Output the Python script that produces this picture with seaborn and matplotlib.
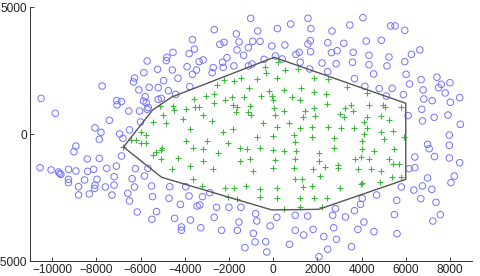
import numpy as np
import pandas as pd
import seaborn as sns
import matplotlib
matplotlib.use("Agg")
import matplotlib.pyplot as plt

# points outside the hull (blue circles)
out_x = [-10500, -9860, -7740, -5700, -5850, -5230, -6270, -6320, -6075, -5610,
         -5200, -7075, -6865, -7060, -5790, -5865, -5745, -5200, -6530, -6045,
         -5650, -5700, -7410, -6000, -8060, -7790, -6500, -6940, -7865, -6800,
         -1015, 1575, -2665, 790, 195, 1710, -3650, -1665, -695, -1545,
         -2410, -2225, -925, -590, -3560, -3800, -4530, -4805, -4835, -1635,
         -1120, -60, 530, 1575, 1680, 1695, 1180, 1030, -3350, -3165,
         -2290, -2090, -1335, 105, 410, 1225, -410, -955, -1120, -1775,
         -2260, -2710, -3895, -3470, -2760, -3650, -4560, -4305, -4955, -3770,
         -4740, -4410, -5060, 1650,
         4060, 3470, 5315, 5515, 5955, 2665, 2470, 3195, 4210, 4895,
         2635, 2895, 3620, 4335, 5240, 6255, 6635, 2210, 2850, 3590,
         4335, 5150, 5955, 2470, 4545, 6015, 3680, 4150, 4800, 5380,
         6165, 5895, 5120, 6695, 7410, 7605, 7485, 8000, 6785, 7785,
         8440, 6815, 7195, 8015, 6725, 6105, 6755, 7285, 7910, 8470, 7970,
         -10545, -10045, -9710, -9650, -9605, -9260, -8925, -9260, -9260, -8805,
         -8530, -8395, -8120, -7865, -9015, -8925, -8410, -8805, -8320, -8060,
         -7970, -8075, -7590, -7530, -7290, -7195, -7195, -7090, -6865, -6575,
         -6500, -6380, -6275, -6230, -6150, -5820, -5665, -5500, -5455, -5485, -5275,
         -4680, -3955, -4710, -3805, -3195, -2865, -4195, -3440, -3320, -2560,
         -2000, -1455, -790, 165, 1000, 1560, -4455, -3740, -4150, -4150,
         -3275, -2665, -1545, -740, -135, -2335, -1620, -895, 1000, 1805,
         1380, -820, -335, 740, -1275, -290, 2075,
         6985, 7060, 7970, 7970, 8440, 7300, 6410, 6410, 6150, 6985,
         6755, 7180, 6365, 5800, 6680, 7365, 7560, 7225, 5590, 5485,
         5605, 4680, 4030, 3955, 3680, 2820, 2695, 3270, 4105, 3835,
         4560, 2740, 2865, 2290, 2470, 3545, 8195, 8045]
out_y = [1400, 815, 1890, 2875, 2415, 2550, 2205, 2050, 1735, 1840,
         1825, 1315, 1275, 1145, 1470, 1300, 1235, 1365, 905, 905,
         1040, 975, 540, 475, 240, 65, 160, 0, -210, -170,
         4555, 4555, 4110, 4330, 4150, 4150, 3715, 3940, 4055, 3625,
         3530, 3610, 3650, 3650, 3345, 3165, 3215, 3020, 2890, 3310,
         3400, 3465, 3505, 3545, 3675, 3240, 3215, 3135, 2850, 2915,
         2825, 3005, 3100, 3070, 2955, 2825, 2940, 2755, 2680, 2680,
         2625, 2615, 2650, 2520, 2415, 2350, 2520, 2195, 2100, 1865,
         1705, 1560, 1405, 2560,
         4580, 4290, 4255, 4255, 4080, 4055, 3595, 3570, 3660, 3690,
         3205, 3280, 3215, 3100, 3030, 3135, 3310, 2795, 2770, 2825,
         2730, 2680, 2850, 2455, 2365, 2350, 2180, 1880, 1785, 1800,
         1970, 1550, 1495, 2140, 2235, 1955, 1825, 2020, 1735, 1615,
         1430, 1380, 1315, 1250, 975, 725, 515, 660, 750, 380, -40,
         -1325, -1415, -1495, -1550, -1590, -1390, -1455, -1785, -1915, -2075,
         -1810, -1470, -1390, -960, -695, -475, -985, -2400, -2360, -2010,
         -1785, -2140, -2085, -1350, -2400, -1680, -2010, -1260, -865, -2335,
         -2635, -1760, -2085, -1365, -3070, -1655, -1350, -2045, -2465, -3360, -3055,
         -2075, -2075, -2530, -2440, -2465, -2310, -2770, -2835, -2795, -2885,
         -2885, -2885, -3135, -3280, -3200, -3230, -3320, -3385, -3660, -3790,
         -3690, -3280, -3465, -3425, -3620, -3790, -3790, -3910, -3790, -3755,
         -3975, -4250, -4240, -4345, -4475, -4645, -4830,
         -405, -580, -445, -945, -1130, -890, -905, -1325, -1365, -1730,
         -2045, -2180, -2205, -2085, -2545, -2690, -3175, -3425, -2610, -3175,
         -3925, -2400, -2530, -2770, -3020, -2940, -3200, -3265, -3465, -3755,
         -3845, -3690, -4145, -4040, -4540, -4435, -1655, -1915]

# points inside the hull (green plus)
in_x = [-6770, -6420, -6195, -5970, -5740, -5970, -5740, -5440, -5135, -5440, -5285,
        -365, -320, 225, 545, 1105, 1835, 165, -740, -1470, -1775,
        -2240, -2560, -1075, -210, 500, 1255, 1835, -2680, -3045, -3575,
        -4530, -4485, -3955, -3545, -3350, -2680, -2195, -1865, -1305, -530,
        -30, 15, 850, 1195, -1650, -1835, -1045, -1015, 45, 90,
        470, 1455, 1850, -4985, -4075, -3195, -1680, -1135, -2775, -4835,
        -440, 700, 1350, 1910, -3740, -2260, -1805, 165, 1225, 1755,
        -740, 15, 925, 1755,
        2485, 3350, 4225, 2410, 2440, 3255, 3530, 3620, 4335, 4970,
        5075, 5770, 3015, 3225, 4255, 4105, 4895, 5240, 2470, 3090,
        3680, 4255, 4865, 5425, 2740, 4105, 5925, 5015,
        -5015, -5060, -3925, -3015, -2030, 1000, -3620, -3165, -5060, -4305,
        -3740, -3165, -2485, -1500, -1165, -590, 15, 470, 1030, 2060,
        -1500, -1045, 90, 1000, 2060, -4560, -3620, -2710, -925, 15,
        925, 1805, -3240, -2180, -1775, -1225, -590, 165, 1000, 1305,
        1350, 1755, -2030, -1620, -590, 165, 1225, 1835, 1225, 470,
        2740, 2335, 2925, 2925, 2135, 4030, 4030, 4560, 5470, 3725,
        3955, 4335, 5240, 5440, 5695, 3835, 4410, 4895, 5770, 5395,
        3015, 4030, 3955, 4835, 2440, 2210]
in_y = [-510, -236, -236, -366, -366, 90, -40, 485, 1100, -827, -697,
        2625, 2415, 2825, 2520, 2545, 2220, 2195, 2165, 2220, 2090,
        2125, 1915, 1800, 1695, 1735, 1800, 1670, 1575, 1495, 1365,
        1105, 945, 975, 1080, 1050, 1235, 1340, 1470, 1470, 1510,
        1510, 1340, 1445, 1340, 1080, 1130, 1105, 750, 1010, 750,
        905, 920, 1010, 750, 590, 750, 880, 880, 515, 450,
        450, 450, 660, 710, 185, 95, 185, 265, 250, 290,
        -105, -75, -40, -105,
        2180, 1840, 1600, 1565, 1185, 1040, 1130, 905, 1155, 1145,
        1050, 1050, 775, 660, 685, 475, 725, 540, 265, 240,
        225, 225, 65, 135, -145, -10, -105, -210,
        -540, -630, -275, -275, -370, -315, -540, -605, -985, -930,
        -1260, -1065, -760, -540, -580, -540, -630, -670, -670, -760,
        -1065, -970, -1025, -1000, -1065, -1390, -1760, -1390, -1455, -1325,
        -1325, -1390, -2045, -2115, -2115, -2045, -2150, -2115, -1785, -1785,
        -2075, -2045, -2480, -2570, -2465, -2505, -2530, -2530, -2875, -2965,
        -565, -1285, -1235, -1350, -1655, -275, -580, -670, -580, -970,
        -890, -970, -970, -1195, -1195, -1365, -1365, -1455, -1695, -1680,
        -2140, -1915, -1980, -1890, -2505, -2860]

# convex hull vertices (closed)
hull_x = [-6770, -5455, -4590, 45, 6000, 6000, 2060, -60, -5045, -6770]
hull_y = [-510, 945, 1455, 3020, 1210, -1785, -2965, -2990, -1705, -510]

sns.set_style("ticks")
plt.rcParams['font.family'] = ['Liberation Sans', 'DejaVu Sans']

fig = plt.figure(figsize=(4.8, 2.76), dpi=100)
ax = fig.add_axes([0.0625, 0.0543, 0.921, 0.9203])

outside = pd.DataFrame({"x": out_x, "y": out_y})
inside = pd.DataFrame({"x": in_x, "y": in_y})

sns.scatterplot(data=outside, x="x", y="y", ax=ax, marker="o", s=22,
                facecolors="none", edgecolor="#7272ff", linewidth=0.7)
sns.scatterplot(data=inside, x="x", y="y", ax=ax, marker="+", s=22,
                color="#3cb83c", linewidth=0.8)
sns.lineplot(x=hull_x, y=hull_y, ax=ax, sort=False, color="#555555",
             linewidth=1.0, estimator=None)

ax.set_xlim(-11000, 9000)
ax.set_ylim(-5000, 5000)
ax.set_xticks(np.arange(-10000, 9000, 2000))
ax.set_yticks([-5000, 0, 5000])
ax.set_xlabel("")
ax.set_ylabel("")
ax.tick_params(direction="in", length=3, width=0.6, labelsize=8.6,
               colors="#222222", pad=2)
sns.despine(ax=ax)
for sp in ["left", "bottom"]:
    ax.spines[sp].set_linewidth(0.7)
    ax.spines[sp].set_color("#333333")

fig.savefig("out.png", dpi=100)
